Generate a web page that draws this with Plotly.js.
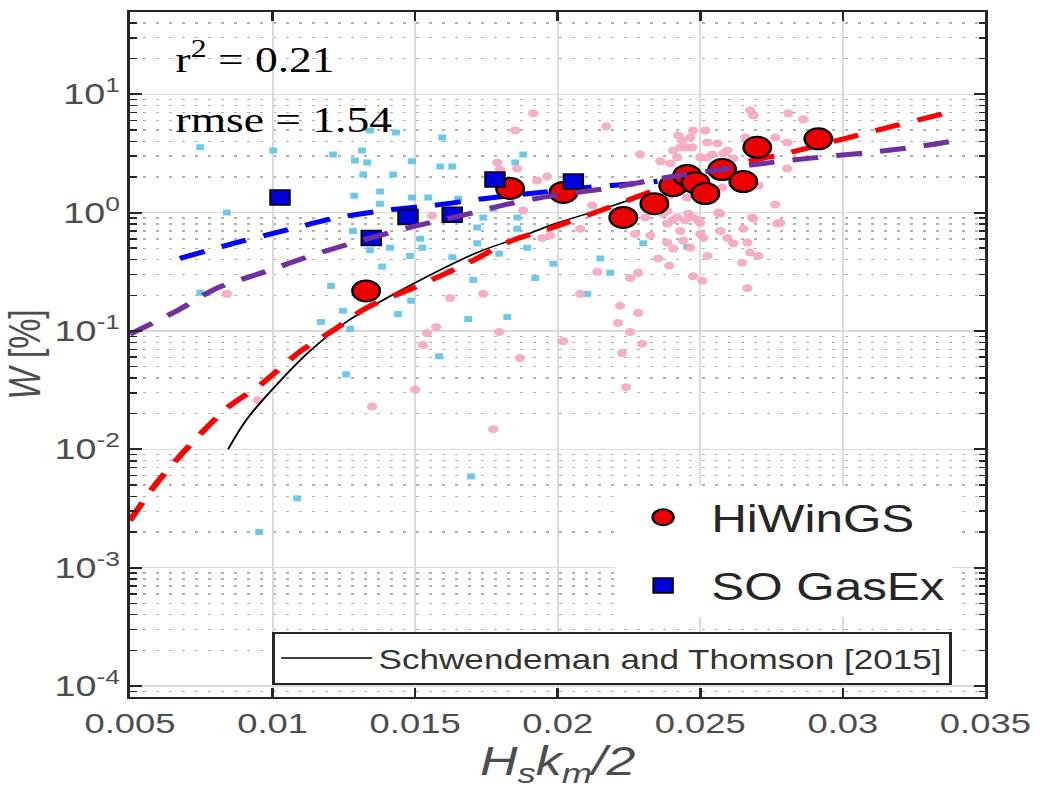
<!DOCTYPE html>
<html>
<head>
<meta charset="utf-8">
<script src="https://cdn.plot.ly/plotly-3.0.1.min.js"></script>
<style>
html,body{margin:0;padding:0;background:#fff;overflow:hidden;}
#wrap{width:800px;height:793px;transform:scale(1.3,1);transform-origin:0 0;}
#chart{width:800px;height:793px;}
</style>
</head>
<body>
<div id="wrap"><div id="chart"></div></div>
<script>
// HiWinGS (red circles)
const hiwingsX = [0.01328,0.01833,0.0202,0.0223,0.02339,0.02405,0.02454,0.02483,0.02518,0.02577,0.02651,0.0270,0.02914];
const hiwingsY = [0.218,1.60,1.48,0.91,1.19,1.69,2.06,1.79,1.45,2.31,1.83,3.56,4.2];
// SO GasEx (blue squares)
const sogasexX = [0.01026,0.01346,0.01475,0.0163,0.0178,0.02055];
const sogasexY = [1.34,0.61,0.92,0.96,1.9,1.83];
// background light-blue squares
const blueBgX = [0.00746,0.01002,0.01212,0.00840,0.01314,0.01342,0.01433,0.01289,0.01332,0.01318,0.01423,0.01489,0.01595,0.01588,0.01630,0.01377,0.01286,0.01489,0.01546,0.01651,0.01774,0.01739,0.01718,0.01858,0.01858,0.01518,0.01525,0.01412,0.01718,0.01893,0.01282,0.01879,0.01851,0.01342,0.01384,0.01482,0.01486,0.01440,0.01630,0.01623,0.01704,0.01795,0.01984,0.01921,0.01823,0.01686,0.01584,0.01272,0.01367,0.02300,0.02454,0.02149,0.02184,0.02104,0.01696,0.00953,0.01086,0.00746,0.01205,0.01247,0.01170,0.01258,0.01377];
const blueBgY = [3.56,3.35,3.10,1.0,3.35,4.95,4.76,2.76,2.65,2.10,2.10,2.71,4.32,2.45,2.45,1.51,1.39,1.34,1.34,1.31,1.08,0.91,0.75,0.91,0.73,0.60,0.505,0.505,0.55,0.505,0.70,3.10,2.65,0.48,0.35,0.43,0.18,0.139,0.42,0.316,0.27,0.45,0.37,0.28,0.131,0.126,0.061,0.104,0.222,0.55,0.515,0.41,0.31,0.206,0.0059,0.002,0.00385,0.21,0.24,0.148,0.119,0.043,1.19];
// background pink circles
const pinkX = [0.01914,0.01851,0.01788,0.01798,0.01858,0.01928,0.01963,0.01560,0.01879,0.01946,0.01974,0.02170,0.02289,0.02360,0.02395,0.02405,0.02437,0.02465,0.02454,0.02430,0.02518,0.02525,0.02560,0.02542,0.02595,0.02675,0.02686,0.02809,0.02861,0.02763,0.02805,0.02658,0.02686,0.02805,0.02704,0.02763,0.02563,0.02686,0.02770,0.02570,0.02616,0.02665,0.02675,0.02704,0.02647,0.02525,0.02500,0.02475,0.02458,0.02447,0.02430,0.02419,0.02402,0.02440,0.02465,0.02384,0.02405,0.02353,0.02391,0.02475,0.02507,0.02665,0.02282,0.02254,0.02139,0.02079,0.02219,0.02282,0.02212,0.02254,0.02019,0.02296,0.02226,0.01868,0.02240,0.02079,0.02121,0.02272,0.02325,0.02370,0.02500,0.02570,0.02388,0.02570,0.02500,0.02475,0.02423,0.02616,0.02525,0.02577,0.01623,0.01739,0.01542,0.01574,0.01528,0.01795,0.01500,0.01349,0.00840,0.00949,0.01774,0.02419,0.02472,0.02581,0.02781,0.02384,0.02454,0.02511,0.02493,0.02595,0.02651,0.02682,0.02384,0.02307];
const pinkY = [6.90,4.95,2.65,2.31,2.36,1.87,2.02,0.94,1.04,0.61,0.64,5.36,3.10,2.71,2.60,3.35,4.07,4.32,3.56,3.56,4.95,3.92,3.84,3.10,3.35,7.32,6.64,6.90,6.14,4.32,3.92,4.32,2.76,2.36,1.69,1.17,1.0,0.89,0.81,0.70,0.55,0.56,0.46,0.43,0.377,0.43,0.66,0.91,0.98,0.86,0.70,0.91,0.86,0.58,0.505,0.56,0.495,0.41,0.356,0.29,0.265,0.23,0.31,0.28,0.316,0.206,0.163,0.142,0.117,0.098,0.082,0.078,0.065,0.059,0.0335,0.73,1.15,0.66,0.64,0.98,0.82,0.98,1.39,2.27,2.93,4.95,4.49,2.87,2.93,1.63,0.19,0.206,0.096,0.108,0.076,0.098,0.032,0.023,0.206,0.026,0.0148,2.93,3.56,3.16,0.82,0.81,1.34,0.61,0.86,0.61,0.73,0.91,1.04,0.91];
// fitted curves
const redFitX = [0.0050,0.0059,0.0070,0.0084,0.0096,0.0110,0.0121,0.0133,0.0151,0.0168,0.0184,0.0197,0.0215,0.0234,0.0264,0.0281,0.0302,0.0318,0.0340];
const redFitY = [0.0025,0.00505,0.0102,0.0223,0.0355,0.068,0.100,0.157,0.24,0.37,0.58,0.73,1.04,1.54,2.6,3.2,4.3,5.4,7.3];
const purpleFitX = [0.0050,0.00665,0.00805,0.0098,0.01156,0.01332,0.01482,0.01658,0.01833,0.01984,0.02195,0.0236,0.02721,0.02897,0.03079,0.03261,0.03405];
const purpleFitY = [0.094,0.148,0.23,0.32,0.45,0.60,0.75,0.94,1.19,1.39,1.63,1.94,2.6,2.9,3.2,3.6,4.1];
const blueFitX = [0.00675,0.00863,0.01037,0.01212,0.01388,0.01563,0.01739,0.01904,0.02104,0.02314,0.0235];
const blueFitY = [0.41,0.55,0.70,0.89,1.04,1.15,1.31,1.45,1.63,1.80,1.84];
const stX = [0.00844,0.0091,0.01016,0.01132,0.01265,0.01493,0.01718,0.01868,0.0198,0.0216,0.02296];
const stY = [0.0100,0.018,0.0355,0.068,0.122,0.25,0.46,0.62,0.79,1.08,1.39];
// tick labels
const yTickVals = [1e-4,1e-3,1e-2,1e-1,1,10];
const yTickText = ['10<sup>-4</sup>','10<sup>-3</sup>','10<sup>-2</sup>','10<sup>-1</sup>','10<sup>0</sup>','10<sup>1</sup>'];
const xTickVals = [0.005,0.01,0.015,0.02,0.025,0.03,0.035];
const xTickText = ['0.005','0.01','0.015','0.02','0.025','0.03','0.035'];

const minorVals = [];
for (let e = -5; e <= 1; e++) { for (let m = 2; m <= 9; m++) { minorVals.push(m * Math.pow(10, e)); } }

const dashStyle = '20px,14px';
const traces = [
  {x: blueBgX, y: blueBgY, type:'scatter', mode:'markers', showlegend:false, hoverinfo:'skip',
   marker:{symbol:'square', size:6, color:'#5cc3e4', opacity:0.9}},
  {x: pinkX, y: pinkY, type:'scatter', mode:'markers', showlegend:false, hoverinfo:'skip',
   marker:{symbol:'circle', size:8, color:'#f4a7c2', opacity:0.9}},
  {x: stX, y: stY, type:'scatter', mode:'lines', name:'Schwendeman and Thomson [2015]', legend:'legend2',
   line:{color:'#000', width:1.6, shape:'spline', smoothing:1}},
  {x: redFitX, y: redFitY, type:'scatter', mode:'lines', showlegend:false,
   line:{color:'#ff0000', width:5, dash:dashStyle, shape:'spline', smoothing:0.8}},
  {x: blueFitX, y: blueFitY, type:'scatter', mode:'lines', showlegend:false,
   line:{color:'#0000ff', width:5, dash:dashStyle, shape:'spline', smoothing:0.8}},
  {x: hiwingsX, y: hiwingsY, type:'scatter', mode:'markers', name:'HiWinGS', legend:'legend', legendgroup:'a',
   marker:{symbol:'circle', size:21, color:'#ee0000', line:{color:'#000', width:2}}},
  {x: sogasexX, y: sogasexY, type:'scatter', mode:'markers', name:'SO GasEx', legend:'legend', legendgroup:'b',
   marker:{symbol:'square', size:15, color:'#0000dd', line:{color:'#000', width:1.5}}},
  {x: purpleFitX, y: purpleFitY, type:'scatter', mode:'lines', showlegend:false,
   line:{color:'#7030a0', width:5, dash:dashStyle, shape:'spline', smoothing:0.8}}
];

const axisCommon = {
  showline:true, linecolor:'#262626', linewidth:2, mirror:'allticks',
  ticks:'inside', ticklen:9, tickwidth:2, tickcolor:'#262626',
  showgrid:true, gridcolor:'#dadada', gridwidth:1.5, zeroline:false
};

const layout = {
  width:800, height:793,
  margin:{l:100, r:42, t:12, b:96},
  paper_bgcolor:'#fff', plot_bgcolor:'#fff',
  font:{family:'Liberation Sans, Arial, sans-serif'},
  xaxis: Object.assign({}, axisCommon, {
    range:[0.005,0.035], tickmode:'array', tickvals:xTickVals, ticktext:xTickText, ticklabelstandoff:0,
    tickfont:{family:'Liberation Sans, Arial, sans-serif', size:28, color:'#4d4d4d'},
    title:{text:'<i>H<sub>s</sub>k<sub>m</sub>/2</i>', font:{size:40, color:'#4d4d4d'}, standoff:2}
  }),
  yaxis: Object.assign({}, axisCommon, {
    type:'log', range:[-4.093,1.695], tickmode:'array', tickvals:yTickVals, ticktext:yTickText, ticklabelstandoff:0,
    tickfont:{family:'Liberation Sans, Arial, sans-serif', size:29, color:'#4d4d4d'},
    minor:{tickmode:'array', tickvals:minorVals, ticks:'inside', ticklen:5, tickwidth:1.5, tickcolor:'#262626', showgrid:true,
           gridcolor:'#b0b0b0', gridwidth:1.3, griddash:'2px,8px'},
    title:{text:'<i>W</i> [%]', font:{size:34, color:'#4d4d4d'}, standoff:3}
  }),
  legend:{x:0.567, y:0.308, xanchor:'left', yanchor:'top', bgcolor:'#fff', borderwidth:0,
          font:{size:38, color:'#262626'}, tracegroupgap:16, itemwidth:64},
  legend2:{x:0.166, y:0.095, xanchor:'left', yanchor:'top', bgcolor:'#fff', bordercolor:'#262626',
           borderwidth:2, font:{size:27, color:'#333'}, itemwidth:70},
  annotations:[
    {xref:'paper', yref:'paper', x:0.05, y:0.933, xanchor:'left', yanchor:'middle', showarrow:false,
     text:'r<sup>2</sup> = 0.21', font:{family:'Liberation Serif, Times New Roman, serif', size:35, color:'#000'}},
    {xref:'paper', yref:'paper', x:0.05, y:0.842, xanchor:'left', yanchor:'middle', showarrow:false,
     text:'rmse = 1.54', font:{family:'Liberation Serif, Times New Roman, serif', size:35, color:'#000'}}
  ]
};

Plotly.newPlot('chart', traces, layout, {staticPlot:true, displayModeBar:false});
</script>
</body>
</html>
